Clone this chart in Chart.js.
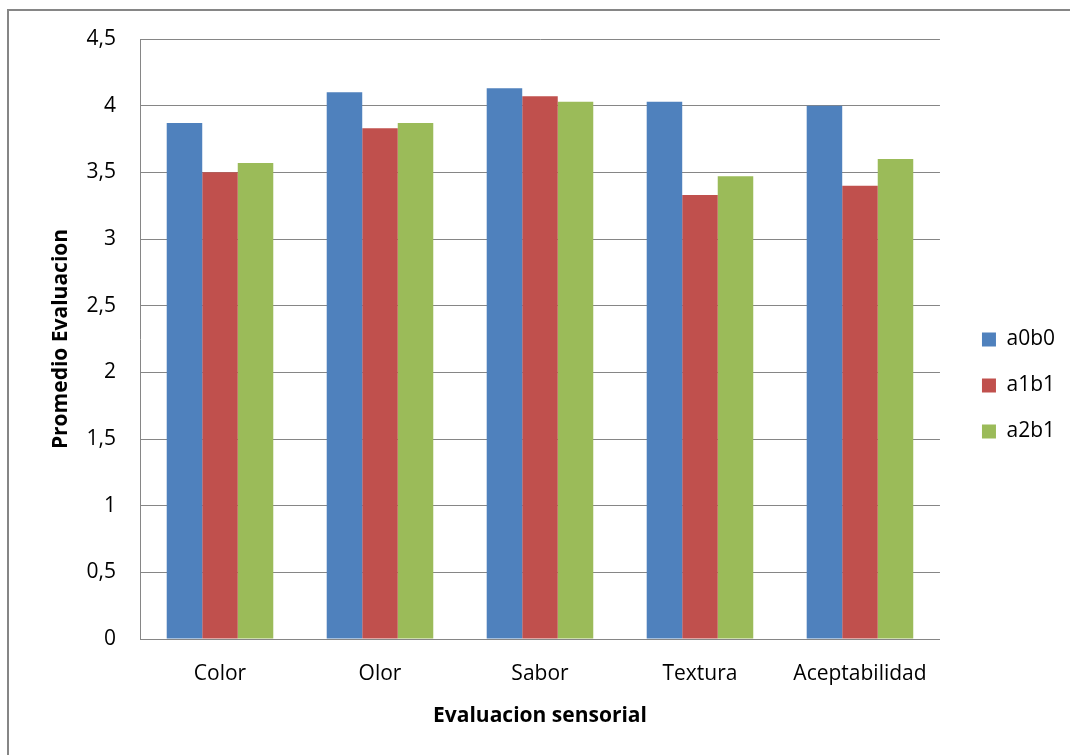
<!DOCTYPE html>
<html>
<head>
<meta charset="utf-8">
<script src="https://cdn.jsdelivr.net/npm/chart.js@4.4.1/dist/chart.umd.min.js"></script>
<style>
  body { margin: 0; background: #fff; }
</style>
</head>
<body>
<canvas id="sensorial" width="1070" height="755"></canvas>
<script>
const categories = [ 'Color', 'Olor', 'Sabor', 'Textura', 'Aceptabilidad' ]
const a0b0 = [ 3.87, 4.10, 4.13, 4.03, 4.00 ]
const a1b1 = [ 3.50, 3.83, 4.07, 3.33, 3.40 ]
const a2b1 = [ 3.57, 3.87, 4.03, 3.47, 3.60 ]
const yTicks = [ 0, 0.5, 1, 1.5, 2, 2.5, 3, 3.5, 4, 4.5 ]

const font = 'Open Sans'

// grey frame edge along the top and left of the chart
const frame = {
  id: 'frame',
  afterDraw (chart) {
    const ctx = chart.ctx
    ctx.save()
    ctx.strokeStyle = '#868686'
    ctx.lineWidth = 2
    ctx.beginPath()
    ctx.moveTo(8, chart.height)
    ctx.lineTo(8, 10)
    ctx.lineTo(chart.width, 10)
    ctx.stroke()
    ctx.restore()
  }
}

// nudge the legend a little right and up from where the layout puts it
const legendShift = {
  id: 'legendShift',
  afterLayout (chart) {
    const legend = chart.legend
    legend.left += 17
    legend.right += 17
    legend.top -= 7
    legend.bottom -= 7
  }
}

let sensorial = new Chart(document.querySelector('#sensorial'), {
  type: 'bar',
  plugins: [frame, legendShift],
  data: {
    labels: categories,
    datasets: [{
      label: 'a0b0',
      data: a0b0,
      backgroundColor: '#4F81BD'
    }, {
      label: 'a1b1',
      data: a1b1,
      backgroundColor: '#C0504D'
    }, {
      label: 'a2b1',
      data: a2b1,
      backgroundColor: '#9BBB59'
    }]
  },
  options: {
    responsive: false,
    animation: false,
    layout: {
      padding: { top: 39, left: 10, right: 22, bottom: 9 }
    },
    datasets: {
      bar: {
        barPercentage: 1,
        categoryPercentage: 0.666
      }
    },
    scales: {
      x: {
        grid: {
          display: false,
          drawTicks: false
        },
        border: { color: '#868686' },
        ticks: {
          color: '#000',
          padding: 22,
          font: { family: font, size: 21 }
        },
        title: {
          display: true,
          text: 'Evaluacion sensorial',
          color: '#000',
          padding: { top: 17, bottom: 17 },
          font: { family: font, size: 21, weight: 'bold' }
        },
        afterFit (scale) { scale.height = 107 }
      },
      y: {
        min: 0,
        max: 4.5,
        afterBuildTicks (scale) {
          scale.ticks = yTicks.map(v => ({ value: v }))
        },
        grid: {
          color: '#868686',
          drawTicks: false
        },
        border: { color: '#868686' },
        ticks: {
          color: '#000',
          padding: 24,
          font: { family: font, size: 21 },
          callback: v => String(v).replace('.', ',')
        },
        title: {
          display: true,
          text: 'Promedio Evaluacion',
          color: '#000',
          padding: { top: 38, bottom: 38 },
          font: { family: font, size: 21, weight: 'bold' }
        },
        afterFit (scale) { scale.width = 130 }
      }
    },
    plugins: {
      legend: {
        position: 'right',
        labels: {
          color: '#000',
          boxWidth: 14,
          boxHeight: 14,
          padding: 25,
          font: { family: font, size: 21 }
        }
      },
      tooltip: { enabled: false }
    }
  }
})
</script>
</body>
</html>
